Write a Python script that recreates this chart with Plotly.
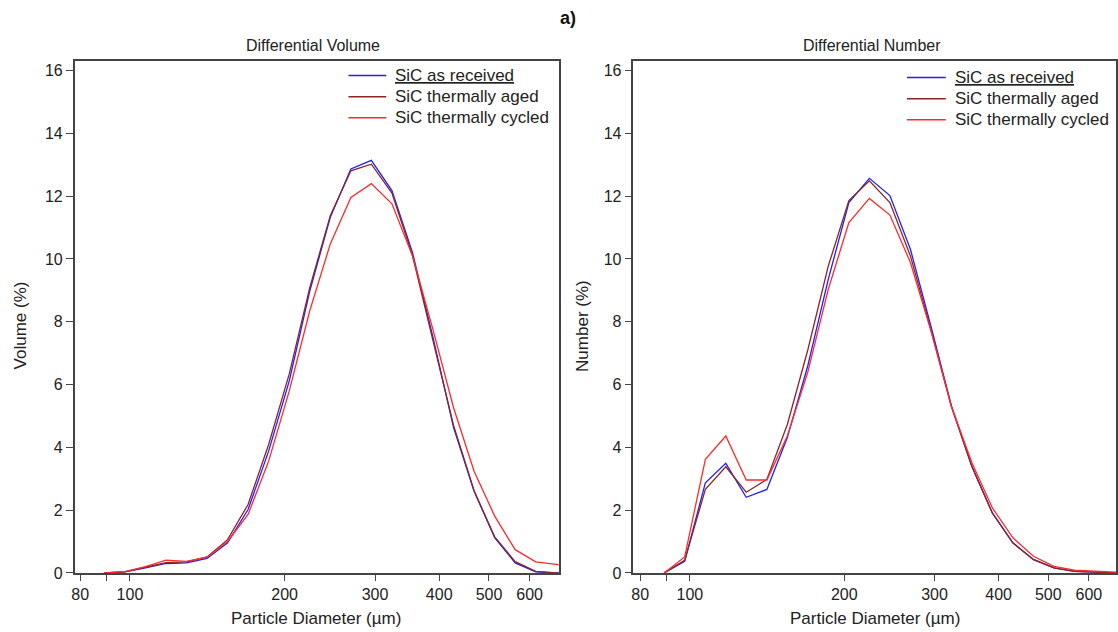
import plotly.graph_objects as go

# Particle diameter grid (µm)
diameter = [89.1, 97.7, 107.2, 117.5, 128.8, 141.3, 154.9, 169.8, 186.2, 204.2,
            223.9, 245.5, 269.2, 295.1, 323.6, 354.8, 389.0, 426.6, 467.7, 512.9,
            562.3, 616.6, 676.1, 741.3]

# Differential volume (%)
vol_received = [0, 0.03, 0.16, 0.30, 0.32, 0.46, 0.96, 2.02, 3.88, 6.11, 8.98, 11.33,
                12.87, 13.14, 12.18, 10.21, 7.50, 4.63, 2.60, 1.12, 0.32, 0.03, 0, 0]
vol_aged = [0, 0.03, 0.18, 0.33, 0.35, 0.51, 1.06, 2.18, 4.09, 6.33, 9.09, 11.38,
            12.81, 13.02, 12.10, 10.12, 7.40, 4.70, 2.62, 1.15, 0.36, 0.05, 0, 0]
vol_cycled = [0, 0.04, 0.20, 0.41, 0.37, 0.50, 1.00, 1.86, 3.56, 5.79, 8.35, 10.48,
              11.96, 12.40, 11.76, 10.10, 7.75, 5.26, 3.24, 1.81, 0.74, 0.35, 0.27, 0.15]

# Differential number (%)
num_received = [0, 0.37, 2.87, 3.49, 2.41, 2.66, 4.31, 6.6, 9.36, 11.80, 12.57, 12.02,
                10.31, 7.87, 5.32, 3.40, 1.91, 0.96, 0.43, 0.16, 0.05, 0.02, 0, 0]
num_aged = [0, 0.40, 2.66, 3.38, 2.57, 2.98, 4.73, 7.1, 9.78, 11.86, 12.49, 11.80,
            10.10, 7.76, 5.30, 3.38, 1.90, 0.95, 0.42, 0.16, 0.05, 0.02, 0, 0]
num_cycled = [0, 0.51, 3.62, 4.36, 2.96, 2.96, 4.36, 6.4, 9.04, 11.16, 11.93, 11.40,
              9.89, 7.72, 5.30, 3.51, 2.07, 1.12, 0.53, 0.21, 0.085, 0.05, 0.03, 0]

series_names = ["SiC as received", "SiC thermally aged", "SiC thermally cycled"]
series_colors = ["#1f1fff", "#8b2525", "#ff2a2a"]

x_tickvals = [80, 90, 100, 200, 300, 400, 500, 600]
x_ticktext = ["80", "", "100", "200", "300", "400", "500", "600"]
y_tickvals = [0, 2, 4, 6, 8, 10, 12, 14, 16]

FONT = "Liberation Sans, Arial, sans-serif"
TXT = "#222222"
AXC = "#444444"

# The captured page is slightly compressed vertically (≈632/642), so the figure
# is laid out on a 642px-tall canvas with vertical positions scaled accordingly.
W, H = 1118, 642
SY = H / 632
def px(x):
    return x / W
def py(y):
    return 1 - (y * SY) / H

fig = go.Figure()

for name, color, ys in zip(series_names, series_colors, [vol_received, vol_aged, vol_cycled]):
    fig.add_trace(go.Scatter(x=diameter, y=ys, mode="lines", name=name,
                             line=dict(color=color, width=1.3),
                             xaxis="x", yaxis="y", showlegend=False))
for name, color, ys in zip(series_names, series_colors, [num_received, num_aged, num_cycled]):
    fig.add_trace(go.Scatter(x=diameter, y=ys, mode="lines", name=name,
                             line=dict(color=color, width=1.3),
                             xaxis="x2", yaxis="y2", showlegend=False))

xcommon = dict(type="log", tickvals=x_tickvals, ticktext=x_ticktext, ticks="outside",
               ticklen=6, tickwidth=1.3, tickcolor=AXC, showline=True, linecolor=AXC,
               linewidth=1.5, mirror=True, showgrid=False, zeroline=False,
               tickfont=dict(family=FONT, size=16, color=TXT))
ycommon = dict(range=[0, 16.32], tickvals=y_tickvals, ticks="outside", ticklen=7,
               tickwidth=1.3, tickcolor=AXC, showline=True, linecolor=AXC, linewidth=1.5,
               mirror=True, showgrid=False, zeroline=False,
               tickfont=dict(family=FONT, size=16, color=TXT))

ydom = [py(572), py(60.5)]
fig.update_layout(
    width=W, height=H,
    margin=dict(l=0, r=0, t=0, b=0),
    paper_bgcolor="white", plot_bgcolor="white",
    xaxis=dict(domain=[px(72), px(558.3)], range=[1.8924, 2.8349], anchor="y", **xcommon),
    yaxis=dict(domain=ydom, anchor="x", **ycommon),
    xaxis2=dict(domain=[px(633.3), 1.0], range=[1.890, 2.831], anchor="y2", **xcommon),
    yaxis2=dict(domain=ydom, anchor="x2", **ycommon),
    showlegend=False,
)

annots = [
    dict(text="<b>a)</b>", x=px(568), y=py(18), font=dict(family=FONT, size=18, color="#111")),
    dict(text="Differential Volume", x=px(311), y=py(45), font=dict(family=FONT, size=16, color=TXT)),
    dict(text="Differential Number", x=px(873), y=py(45), font=dict(family=FONT, size=16, color=TXT)),
    dict(text="Particle Diameter (µm)", x=px(314), y=py(618), font=dict(family=FONT, size=17, color=TXT)),
    dict(text="Particle Diameter (µm)", x=px(876), y=py(618), font=dict(family=FONT, size=17, color=TXT)),
    dict(text="Volume (%)", x=px(18), y=py(325), textangle=-90, font=dict(family=FONT, size=17, color=TXT)),
    dict(text="Number (%)", x=px(582), y=py(325), textangle=-90, font=dict(family=FONT, size=17, color=TXT)),
]
for a in annots:
    fig.add_annotation(xref="paper", yref="paper", showarrow=False,
                       xanchor="center", yanchor="middle", **a)

# Legends (one per panel), drawn inside the top-right of each plot
legend_specs = [
    dict(x0=347, x1=385, xt=392, rows=[75.5, 96.5, 117.5]),
    dict(x0=908, x1=947, xt=954, rows=[77.5, 98.5, 119.5]),
]
for spec in legend_specs:
    for i, (name, color) in enumerate(zip(series_names, series_colors)):
        yc = spec["rows"][i]
        fig.add_shape(type="line", xref="paper", yref="paper",
                      x0=px(spec["x0"]), x1=px(spec["x1"]), y0=py(yc), y1=py(yc),
                      line=dict(color=color, width=1.5))
        label = f"<u>{name}</u>" if i == 0 else name
        fig.add_annotation(xref="paper", yref="paper", showarrow=False,
                           x=px(spec["xt"]), y=py(yc), xanchor="left", yanchor="middle",
                           text=label, font=dict(family=FONT, size=17, color=TXT))

fig.write_html(
    "out.html",
    config={"displayModeBar": False},
    post_script="document.body.style.margin='0';document.body.style.overflow='hidden';",
)
